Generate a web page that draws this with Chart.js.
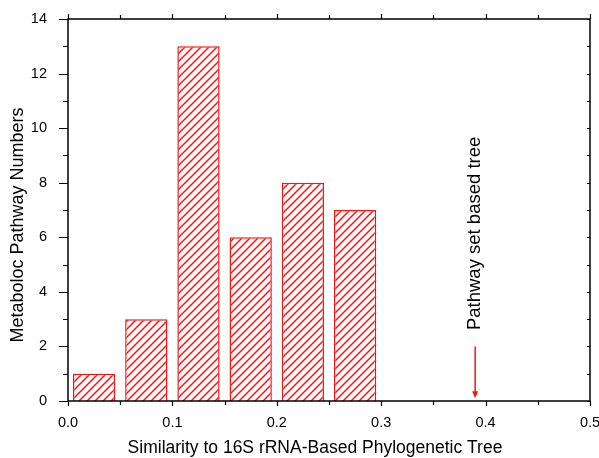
<!DOCTYPE html>
<html>
<head>
<meta charset="utf-8">
<script src="https://cdn.jsdelivr.net/npm/chart.js@4"></script>
<style>
  html, body { margin: 0; padding: 0; background: #fff; }
  #wrap { width: 599px; height: 458px; }
</style>
</head>
<body>
<div id="wrap"><canvas id="chart"></canvas></div>
<script>
const binCenters = [0.025, 0.075, 0.125, 0.175, 0.225, 0.275];
const counts = [1, 3, 13, 6, 8, 7];
const xTicks = [0.0, 0.1, 0.2, 0.3, 0.4, 0.5];
const yTicks = [0, 2, 4, 6, 8, 10, 12, 14];
const markerX = 0.39;
const markerLabel = 'Pathway set based tree';
const xTitle = 'Similarity to 16S rRNA-Based Phylogenetic Tree';
const yTitle = 'Metaboloc Pathway Numbers';

const FONT = '"Liberation Sans", Arial, sans-serif';
const RED = '#ff1010';

// diagonal hatch fill
function makeHatch() {
    const s = 8;
    const c = document.createElement('canvas');
    c.width = s; c.height = s;
    const g = c.getContext('2d');
    g.fillStyle = '#fff';
    g.fillRect(0, 0, s, s);
    g.strokeStyle = RED;
    g.lineWidth = 1.5;
    g.beginPath();
    g.moveTo(0, s); g.lineTo(s, 0);
    g.moveTo(-2, 2); g.lineTo(2, -2);
    g.moveTo(s - 2, s + 2); g.lineTo(s + 2, s - 2);
    g.stroke();
    return g.createPattern(c, 'repeat');
}

// frame, tick marks, axis titles and the arrow note
const decor = {
    id: 'decor',
    afterDraw(chart) {
        const { ctx, chartArea: a, scales: { x, y } } = chart;
        ctx.save();
        ctx.strokeStyle = '#000';
        ctx.lineWidth = 1.5;
        ctx.strokeRect(a.left, a.top, a.right - a.left, a.bottom - a.top);
        ctx.lineWidth = 1.2;
        ctx.beginPath();
        for (let v = 0; v <= 0.5001; v += 0.05) {
            const px = Math.round(x.getPixelForValue(v)) + 0.5;
            const major = Math.abs(v * 10 - Math.round(v * 10)) < 1e-6;
            const len = major ? 5 : 4;
            ctx.moveTo(px, a.bottom); ctx.lineTo(px, a.bottom + len);
            ctx.moveTo(px, a.top); ctx.lineTo(px, a.top - len);
        }
        for (let v = 0; v <= 14; v += 1) {
            const py = Math.round(y.getPixelForValue(v)) + 0.5;
            const len = v % 2 === 0 ? 9 : 5;
            ctx.moveTo(a.left, py); ctx.lineTo(a.left - len, py);
            ctx.moveTo(a.right, py); ctx.lineTo(a.right - 3, py);
        }
        ctx.stroke();

        // axis titles (placed like the original, a bit off the plot centre)
        ctx.fillStyle = '#000';
        ctx.textAlign = 'center';
        ctx.textBaseline = 'middle';
        ctx.font = '17.5px ' + FONT;
        ctx.fillText(xTitle, 315, 448);
        ctx.save();
        ctx.translate(18, 225);
        ctx.rotate(-Math.PI / 2);
        ctx.font = '18px ' + FONT;
        ctx.fillText(yTitle, 0, 0);
        ctx.restore();

        // arrow
        const ax = x.getPixelForValue(markerX);
        const top = y.getPixelForValue(2.0);
        const tip = y.getPixelForValue(0.1);
        ctx.strokeStyle = RED;
        ctx.fillStyle = RED;
        ctx.lineWidth = 1.5;
        ctx.beginPath();
        ctx.moveTo(ax, top); ctx.lineTo(ax, tip - 6);
        ctx.stroke();
        ctx.beginPath();
        ctx.moveTo(ax - 3, tip - 7); ctx.lineTo(ax + 3, tip - 7); ctx.lineTo(ax, tip);
        ctx.closePath();
        ctx.fill();

        // rotated note
        ctx.translate(ax + 5, y.getPixelForValue(2.6));
        ctx.rotate(-Math.PI / 2);
        ctx.fillStyle = '#000';
        ctx.font = '18.5px ' + FONT;
        ctx.textAlign = 'left';
        ctx.textBaseline = 'alphabetic';
        ctx.fillText(markerLabel, 0, 0);
        ctx.restore();
    }
};

new Chart(document.getElementById('chart'), {
    type: 'bar',
    data: {
        datasets: [{
            data: binCenters.map((c, i) => ({ x: c, y: counts[i] })),
            backgroundColor: makeHatch(),
            borderColor: RED,
            borderWidth: 1.5,
            barPercentage: 0.81,
            categoryPercentage: 1.0
        }]
    },
    options: {
        responsive: true,
        maintainAspectRatio: false,
        animation: false,
        layout: { padding: { top: 19, right: 9, left: 0, bottom: 0 } },
        plugins: { legend: { display: false }, tooltip: { enabled: false } },
        scales: {
            x: {
                type: 'linear',
                offset: false,
                min: 0, max: 0.5,
                grid: { display: false, offset: false },
                border: { display: false },
                afterBuildTicks: s => { s.ticks = xTicks.map(v => ({ value: v })); },
                afterFit: s => { s.height = 57; s.paddingLeft = 0; s.paddingRight = 0; },
                ticks: {
                    color: '#000',
                    font: { family: FONT, size: 14.5 },
                    padding: 5,
                    maxRotation: 0,
                    callback: v => v.toFixed(1)
                }
            },
            y: {
                min: 0, max: 14,
                grid: { display: false },
                border: { display: false },
                afterBuildTicks: s => { s.ticks = yTicks.map(v => ({ value: v })); },
                afterFit: s => { s.width = 68; s.paddingTop = 0; s.paddingBottom = 0; },
                ticks: {
                    color: '#000',
                    font: { family: FONT, size: 14.5 },
                    padding: 13
                }
            }
        }
    },
    plugins: [decor]
});
</script>
</body>
</html>
